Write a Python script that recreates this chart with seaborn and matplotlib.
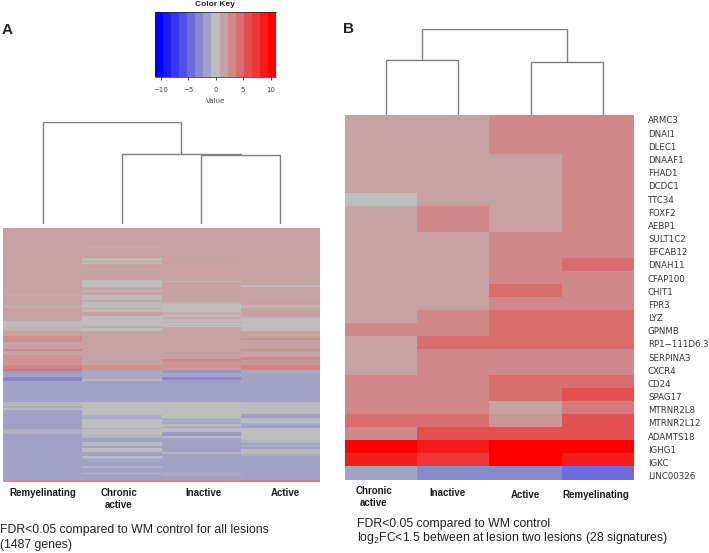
import numpy as np
import pandas as pd
import seaborn as sns
import matplotlib
matplotlib.use("Agg")
import matplotlib.pyplot as plt
from matplotlib.colors import LinearSegmentedColormap

sns.set_style("white")
plt.rcParams['font.family'] = ['Liberation Sans', 'DejaVu Sans']
plt.rcParams['mathtext.default'] = 'regular'

W, H = 709, 553

# ---------- data ----------
key_values = [-10.27, -8.8, -7.33, -5.87, -4.4, -2.93, -1.47, 0,
              1.47, 2.93, 4.4, 5.87, 7.33, 8.8, 10.27]
key_ticks = [-10, -5, 0, 5, 10]

a_columns = ["Remyelinating", "Chronic\nactive", "Inactive", "Active"]

# panel A: each column is read top to bottom as (value, number of rows)
a_remyelinating = [(1.47,67),(1.1,1),(1.47,9),(0.9,3),(1.47,13),(0.2,6),(0.7,4),(1.47,5),(2.6,6),(1.6,7),
    (2.9,2),(1.5,4),(2.4,10),(3.2,4),(4.0,2),(-2.0,2),(-1.5,4),(-2.9,4),(-1.5,21),(-0.3,4),(-1.2,2),(-0.3,2),
    (-1.5,19),(-0.8,5),(-1.5,46),(2.9,2)]
a_chronic = [(1.47,19),(1.1,1),(1.47,10),(0.3,3),(1.3,1),(0.4,2),(1.47,5),(1.1,1),(1.47,5),(0.9,1),(1.47,4),
    (0.1,7),(1.1,1),(1.47,2),(0.8,2),(1.47,3),(0.2,5),(1.2,2),(0.2,6),(1.0,1),(0.2,3),(1.47,4),(0.05,10),(1.2,2),
    (0.1,3),(1.47,4),(1.1,1),(1.47,29),(2.2,5),(1.8,1),(-1.2,8),(0.5,2),(-1.5,21),(0,13),(-0.9,3),(-1.4,1),(0,9),
    (-1,1),(-0.1,6),(-0.5,3),(-1.5,4),(-0.3,4),(-1.5,2),(0,4),(-1.5,4),(0.1,2),(-0.9,1),(-1.5,7),(-0.6,2),(-1.5,5),
    (-0.6,1),(-1.5,6),(2.9,2)]
a_inactive = [(1.47,31),(1.1,1),(1.47,21),(0.5,1),(1.47,9),(1.0,1),(1.47,10),(0.8,2),(0.1,8),(0.9,3),(0.2,2),
    (1.2,2),(0.3,3),(1.1,1),(0.1,4),(1.47,26),(1.9,1),(1.47,5),(2.9,2),(2.2,4),(2.4,3),(1.9,2),(-2.2,3),(-1.3,4),
    (-2.9,3),(-1.5,22),(0,8),(-0.2,1),(0,7),(-1.2,3),(-0.3,1),(-1.3,2),(-0.3,3),(-1.5,1),(-0.1,4),(-1.8,4),(-0.1,2),
    (-1.5,14),(-0.4,2),(-1.5,18),(-1.0,4),(-1.5,4),(2.9,2)]
a_active = [(1.47,57),(0.2,2),(1.47,10),(1.0,1),(1.47,7),(0.7,3),(1.47,9),(0.6,2),(0.1,8),(0.3,4),(1.47,7),(2.4,2),
    (1.47,9),(2.6,1),(1.8,2),(1.47,5),(2.9,3),(2.2,5),(3.2,3),(3.6,2),(-1.2,3),(-1.5,29),(-0.2,3),(0,9),(-1.7,4),
    (-0.2,5),(-1.2,2),(-1.7,3),(0,12),(-0.7,3),(-1.5,2),(-1.0,2),(-1.5,2),(-0.2,5),(-1.0,2),(-1.5,24),(3.5,2)]

genes = ["ARMC3","DNAI1","DLEC1","DNAAF1","FHAD1","DCDC1","TTC34","FOXF2","AEBP1","SULT1C2","EFCAB12",
         "DNAH11","CFAP100","CHIT1","FPR3","LYZ","GPNMB","RP1\u2212111D6.3","SERPINA3","CXCR4","CD24","SPAG17",
         "MTRNR2L8","MTRNR2L12","ADAMTS18","IGHG1","IGKC","LINC00326"]
b_chronic = [1.47,1.47,1.47,1.47,1.47,1.47,0,1.47,1.47,1.47,1.47,1.47,1.47,1.47,1.47,1.47,2.93,1.47,1.47,1.47,
             2.93,2.93,2.93,4.4,2.93,10.27,8.8,-1.47]
b_inactive = [1.47,1.47,1.47,1.47,1.47,1.47,1.47,2.93,2.93,1.47,1.47,1.47,1.47,1.47,1.47,2.93,2.93,4.4,2.93,2.93,
              2.93,2.93,2.93,4.4,5.87,8.8,7.33,-2.93]
b_active = [2.93,2.93,2.93,1.47,1.47,1.47,1.47,1.47,1.47,2.93,2.93,2.93,2.93,4.4,2.93,4.4,4.4,4.4,2.93,2.93,
            4.4,4.4,1.47,2.2,5.87,10.27,10.27,-2.93]
b_remyelinating = [2.93,2.93,2.93,2.93,2.93,2.93,2.93,2.93,2.93,2.93,2.93,4.4,2.93,2.93,2.93,4.4,4.4,4.4,2.93,2.93,
                   4.4,5.87,3.7,5.87,5.87,10.27,8.8,-4.4]

# dendrogram merge heights (arbitrary units) and merge pairs
a_root, a_left_node, a_right_node = 1.0, 0.685, 0.675
b_root, b_left_node, b_right_node = 1.0, 0.645, 0.615

# ---------- helpers ----------
cmap = LinearSegmentedColormap.from_list("bgr", ["#0000ff", "#bebebe", "#ff0000"], N=256)
VMAX = 10.27

fig = plt.figure(figsize=(W / 100, H / 100), dpi=100, facecolor="white")

def box(x0, y0, x1, y1):
    return fig.add_axes([x0 / W, 1 - y1 / H, (x1 - x0) / W, (y1 - y0) / H])

def label(x, y, s, **kw):
    kw.setdefault("ha", "center")
    kw.setdefault("va", "center")
    fig.text(x / W, 1 - y / H, s, **kw)

def expand(runs):
    return np.repeat([r[0] for r in runs], [r[1] for r in runs])

DENDRO = "#7f7f7f"
def u_link(ax, x0, h0, x1, h1, top):
    ax.plot([x0, x0, x1, x1], [h0, top, top, h1], color=DENDRO, lw=1.0, solid_joinstyle="miter")

def dendro_axes(rect):
    ax = box(*rect)
    ax.set_xlim(0, 4)
    ax.set_ylim(0, 1)
    ax.axis("off")
    return ax

# ---------- colour key ----------
ax = box(155, 12, 276, 77)
sns.heatmap(np.array([key_values]), ax=ax, cmap=cmap, vmin=-VMAX, vmax=VMAX, cbar=False,
            xticklabels=False, yticklabels=False)
for s in ax.spines.values():
    s.set_visible(True)
    s.set_color("#222222")
    s.set_linewidth(0.5)
ax.spines["left"].set_visible(False)
ax.spines["right"].set_visible(False)
ax.set_xticks([(v + 11) / 22 * len(key_values) for v in key_ticks])
ax.set_xticklabels([str(v).replace("-", "\u2212") for v in key_ticks], fontsize=5, color="#444444",
                   family=['DejaVu Sans'])
ax.tick_params(axis="x", bottom=True, length=2.5, width=0.6, pad=5, color="#222222")
ax.set_xlabel("Value", fontsize=5, color="#444444", labelpad=3, family=['DejaVu Sans'])
label(215, 4.5, "Color Key", fontsize=6, fontweight="bold", color="#222222")

# ---------- panel A ----------
a_df = pd.DataFrame({"Remyelinating": expand(a_remyelinating), "Chronic active": expand(a_chronic),
                     "Inactive": expand(a_inactive), "Active": expand(a_active)})
ax = box(3, 228, 320, 482)
sns.heatmap(a_df, ax=ax, cmap=cmap, vmin=-VMAX, vmax=VMAX, cbar=False, xticklabels=False, yticklabels=False)

ax = dendro_axes((3, 122, 320, 223.5))
u_link(ax, 2.5, 0, 3.5, 0, a_right_node)
u_link(ax, 1.5, 0, 3.0, a_right_node, a_left_node)
u_link(ax, 0.5, 0, 2.25, a_left_node, a_root)

for x, y, s in [(43, 493, a_columns[0]), (118.7, 499, a_columns[1]), (203.7, 493, a_columns[2]), (285, 493, a_columns[3])]:
    label(x, y, s, fontsize=7, fontweight="bold", color="#1a1a1a", linespacing=1.15)

label(0.5, 530, "FDR<0.05 compared to WM control for all lesions", ha="left", fontsize=8.8, color="#222222")
label(0.5, 545, "(1487 genes)", ha="left", fontsize=8.8, color="#222222")
label(7, 30, "A", fontsize=11, fontweight="bold", color="#222222")

# ---------- panel B ----------
b_df = pd.DataFrame({"Chronic active": b_chronic, "Inactive": b_inactive, "Active": b_active,
                     "Remyelinating": b_remyelinating}, index=genes)
ax = box(344.7, 115, 634, 479.5)
sns.heatmap(b_df, ax=ax, cmap=cmap, vmin=-VMAX, vmax=VMAX, cbar=False, xticklabels=False, yticklabels=True)
ax.yaxis.tick_right()
ax.set_yticks(np.linspace(0.384, 27.7, len(genes)))
ax.set_yticklabels(genes)
ax.tick_params(axis="y", right=False, length=0, pad=10, labelrotation=0)
for t in ax.get_yticklabels():
    t.set_fontsize(6.2)
    t.set_family(['DejaVu Sans'])
    t.set_color("#333333")

ax = dendro_axes((349.7, 29, 639, 115))
u_link(ax, 0.5, 0, 1.5, 0, b_left_node)
u_link(ax, 2.5, 0, 3.5, 0, b_right_node)
u_link(ax, 1.0, b_left_node, 3.0, b_right_node, b_root)

for x, y, s in [(374, 497, "Chronic\nactive"), (447, 493.5, "Inactive"), (525.5, 494.5, "Active"), (595.5, 494.5, "Remyelinating")]:
    label(x, y, s, fontsize=7, fontweight="bold", color="#1a1a1a", linespacing=1.15)

label(357, 523.5, "FDR<0.05 compared to WM control", ha="left", fontsize=8.8, color="#222222")
label(357, 538, "log$_2$FC<1.5 between at lesion two lesions (28 signatures)", ha="left", fontsize=8.8, color="#222222")
label(349, 29, "B", fontsize=11, fontweight="bold", color="#222222")

fig.savefig("out.png", dpi=100, facecolor="white")
